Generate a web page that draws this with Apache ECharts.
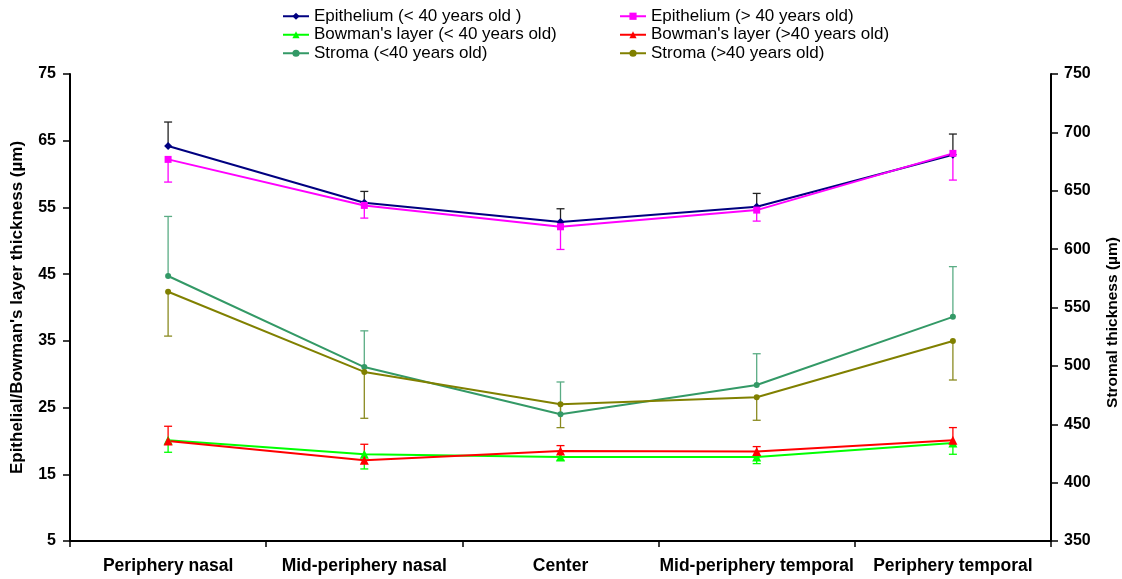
<!DOCTYPE html>
<html>
<head>
<meta charset="utf-8">
<script src="https://cdn.jsdelivr.net/npm/echarts@6/dist/echarts.min.js"></script>
<style>html,body{margin:0;padding:0;background:#fff}#c{width:1122px;height:579px}</style>
</head>
<body>
<div id="c"></div>
<script>
var categories = ['Periphery nasal', 'Mid-periphery nasal', 'Center', 'Mid-periphery temporal', 'Periphery temporal'];
var leftTicks = [5, 15, 25, 35, 45, 55, 65, 75];
var rightTicks = [350, 400, 450, 500, 550, 600, 650, 700, 750];

var epiYoung = [64.2, 55.7, 52.8, 55.1, 62.9];
var epiYoungSD = [3.6, 1.7, 2.0, 2.0, 3.1];
var epiOld = [62.2, 55.3, 52.1, 54.6, 63.1];
var epiOldSD = [3.4, 1.9, 3.4, 1.65, 4.0];
var bowYoung = [20.1, 18.0, 17.6, 17.6, 19.7];
var bowYoungSD = [1.8, 2.2, 0.5, 1.0, 1.7];
var bowOld = [20.0, 17.1, 18.5, 18.4, 20.1];
var bowOldSD = [2.2, 2.4, 0.8, 0.75, 1.9];
var stroYoung = [577, 499, 458.5, 483.6, 542];
var stroYoungSD = [51, 31, 27.7, 26.8, 43];
var stroOld = [563.5, 494.8, 467.1, 473.1, 521.3];
var stroOldSD = [38, 39.7, 20, 19.7, 33.4];

var FONT = '"Liberation Sans", Arial, sans-serif';

function errData(vals, sds, dir) {
  return vals.map(function (v, i) { return [i, v, v + dir * sds[i]]; });
}
function errSeries(name, vals, sds, dir, color, yIdx) {
  return {
    type: 'custom', name: name, yAxisIndex: yIdx, z: 1,
    data: errData(vals, sds, dir),
    renderItem: function (params, api) {
      var m = api.coord([api.value(0), api.value(1)]);
      var e = api.coord([api.value(0), api.value(2)]);
      var h = 4;
      return {
        type: 'group',
        children: [
          { type: 'line', shape: { x1: m[0], y1: m[1], x2: e[0], y2: e[1] }, style: { stroke: color, lineWidth: 1.3 } },
          { type: 'line', shape: { x1: e[0] - h, y1: e[1], x2: e[0] + h, y2: e[1] }, style: { stroke: color, lineWidth: 1.3 } }
        ]
      };
    }
  };
}
function lineSeries(name, vals, color, symbol, size, yIdx) {
  return {
    type: 'line', name: name, data: vals, yAxisIndex: yIdx, z: 3,
    symbol: symbol, symbolSize: size, showSymbol: true,
    lineStyle: { color: color, width: 2 },
    itemStyle: { color: color },
    emphasis: { disabled: true }
  };
}

var n1 = 'Epithelium (< 40 years old )', n2 = 'Epithelium (> 40 years old)';
var n3 = "Bowman's layer (< 40 years old)", n4 = "Bowman's layer (>40 years old)";
var n5 = 'Stroma (<40 years old)', n6 = 'Stroma (>40 years old)';

var legendCommon = {
  orient: 'vertical', top: 2, itemWidth: 26, itemHeight: 9, itemGap: 0,
  textStyle: { fontFamily: FONT, fontSize: 17, color: '#000', lineHeight: 18.5 },
  selectedMode: false
};

var chart = echarts.init(document.getElementById('c'), null, { renderer: 'canvas' });
chart.setOption({
  animation: false,
  backgroundColor: '#fff',
  legend: [
    Object.assign({ left: 277, data: [n1, n3, n5] }, legendCommon),
    Object.assign({ left: 614, data: [n2, n4, n6] }, legendCommon)
  ],
  grid: { left: 70, right: 71, top: 74, bottom: 38, containLabel: false, outerBoundsMode: 'none' },
  xAxis: {
    type: 'category', data: categories, boundaryGap: true,
    axisLine: { lineStyle: { color: '#000', width: 2 } },
    axisTick: { show: true, inside: false, length: 6, lineStyle: { color: '#000', width: 1.5 } },
    axisLabel: { interval: 0, margin: 16, fontFamily: FONT, fontSize: 17.5, fontWeight: 'bold', color: '#000' },
    splitLine: { show: false }
  },
  yAxis: [
    {
      type: 'value', min: 5, max: 75, position: 'left',
      name: "Epithelial/Bowman's layer thickness (µm)", nameLocation: 'middle', nameGap: 44,
      nameTextStyle: { fontFamily: FONT, fontSize: 17, fontWeight: 'bold', color: '#000' },
      axisLine: { show: true, lineStyle: { color: '#000', width: 2 } },
      axisTick: { show: true, inside: false, length: 7, customValues: leftTicks, lineStyle: { color: '#000', width: 1.5 } },
      axisLabel: { margin: 14, customValues: leftTicks, fontFamily: FONT, fontSize: 16, fontWeight: 'bold', color: '#000' },
      splitLine: { show: false }
    },
    {
      type: 'value', min: 350, max: 750, interval: 50, position: 'right',
      name: 'Stromal thickness (µm)', nameLocation: 'middle', nameGap: 54,
      nameTextStyle: { fontFamily: FONT, fontSize: 15.5, fontWeight: 'bold', color: '#000', padding: [0, 30, 0, 0] },
      axisLine: { show: true, lineStyle: { color: '#000', width: 2 } },
      axisTick: { show: true, inside: false, length: 7, customValues: rightTicks, lineStyle: { color: '#000', width: 1.5 } },
      axisLabel: { margin: 13, customValues: rightTicks, fontFamily: FONT, fontSize: 16, fontWeight: 'bold', color: '#000' },
      splitLine: { show: false }
    }
  ],
  series: [
    errSeries('e1', epiYoung, epiYoungSD, 1, '#222222', 0),
    errSeries('e2', epiOld, epiOldSD, -1, '#FF00FF', 0),
    errSeries('e3', bowYoung, bowYoungSD, -1, '#00FF00', 0),
    errSeries('e4', bowOld, bowOldSD, 1, '#FF0000', 0),
    errSeries('e5', stroYoung, stroYoungSD, 1, '#5aac84', 1),
    errSeries('e6', stroOld, stroOldSD, -1, '#8a8a20', 1),
    lineSeries(n1, epiYoung, '#000080', 'diamond', 8, 0),
    lineSeries(n2, epiOld, '#FF00FF', 'rect', 7, 0),
    lineSeries(n3, bowYoung, '#00FF00', 'triangle', 9, 0),
    lineSeries(n4, bowOld, '#FF0000', 'triangle', 9, 0),
    lineSeries(n5, stroYoung, '#339966', 'circle', 6, 1),
    lineSeries(n6, stroOld, '#808000', 'circle', 6, 1)
  ]
});
</script>
</body>
</html>
